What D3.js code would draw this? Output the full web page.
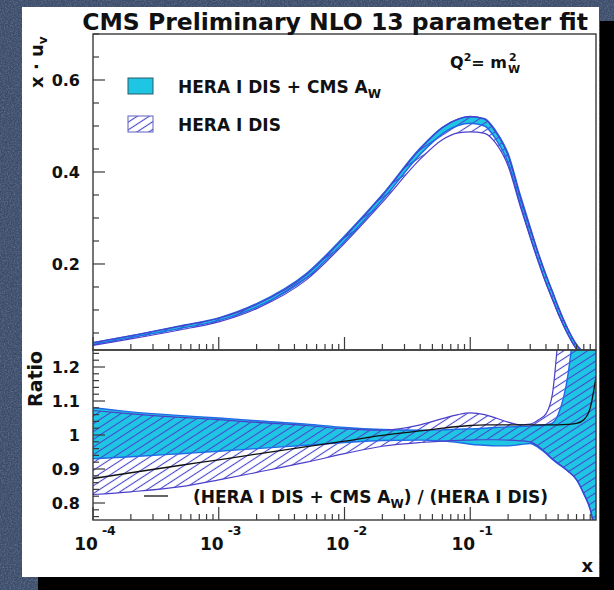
<!DOCTYPE html>
<html><head><meta charset="utf-8">
<script src="https://cdn.jsdelivr.net/npm/d3@7"></script>
<style>html,body{margin:0;padding:0;background:#3f506e;overflow:hidden}</style>
</head><body><svg id="c" width="614" height="590"></svg>
<script>
// ---------------- data ----------------
const xGrid = [1e-4, 2e-4, 5e-4, 1e-3, 2e-3, 5e-3, 1e-2, 2e-2, 4e-2, 6e-2, 0.08, 0.1, 0.13, 0.16, 0.2, 0.25, 0.3, 0.35, 0.4, 0.45, 0.5, 0.6, 0.7, 0.8, 0.9, 1.0];

// upper panel: x*u_v bands
const pdfCyanLo = [0.025,0.040,0.060,0.077,0.106,0.170,0.249,0.339,0.438,0.483,0.501,0.506,0.500,0.471,0.420,0.330,0.260,0.204,0.159,0.124,0.093,0.046,0.015,0.002,0.000,0];
const pdfCyanHi = [0.029,0.044,0.066,0.083,0.114,0.180,0.261,0.351,0.452,0.497,0.515,0.520,0.516,0.489,0.440,0.350,0.280,0.222,0.177,0.141,0.108,0.058,0.025,0.008,0.002,0];
const pdfHeraLo = [0.023,0.037,0.057,0.074,0.103,0.166,0.245,0.334,0.428,0.470,0.485,0.487,0.484,0.462,0.413,0.325,0.257,0.202,0.158,0.123,0.092,0.046,0.015,0.002,0.000,0];
const pdfHeraHi = [0.029,0.044,0.065,0.082,0.112,0.177,0.258,0.349,0.450,0.496,0.515,0.521,0.515,0.486,0.436,0.345,0.276,0.220,0.175,0.139,0.106,0.057,0.024,0.008,0.002,0];

// lower panel: ratios
const ratioCentral = [0.872,0.889,0.911,0.927,0.944,0.966,0.982,0.999,1.012,1.020,1.025,1.028,1.030,1.030,1.030,1.030,1.030,1.030,1.030,1.030,1.030,1.031,1.034,1.045,1.080,1.170];
const cyanRatioLo = [0.930,0.936,0.945,0.952,0.960,0.970,0.978,0.984,0.985,0.982,0.978,0.973,0.970,0.968,0.968,0.972,0.975,0.962,0.946,0.928,0.915,0.893,0.868,0.826,0.780,0.700];
const cyanRatioHi = [1.080,1.068,1.057,1.050,1.042,1.032,1.022,1.016,1.014,1.015,1.017,1.018,1.020,1.022,1.024,1.025,1.026,1.028,1.030,1.035,1.060,1.180,1.400,1.700,2.000,2.500];
const heraRatioLo = [0.825,0.833,0.848,0.868,0.890,0.920,0.945,0.967,0.978,0.982,0.984,0.985,0.986,0.986,0.985,0.983,0.980,0.966,0.948,0.930,0.917,0.894,0.869,0.828,0.782,0.700];
const heraRatioHi = [1.072,1.062,1.052,1.045,1.037,1.028,1.018,1.014,1.030,1.048,1.060,1.065,1.060,1.050,1.038,1.030,1.032,1.045,1.062,1.120,1.290,1.700,2.000,2.300,2.500,2.800];

const xTickDecades = [-4, -3, -2, -1];
const upperTickLabels = [0.2, 0.4, 0.6];
const lowerTickLabels = [0.8, 0.9, 1.0, 1.1, 1.2];

const title = "CMS Preliminary NLO 13 parameter fit";
const legendCyan = "HERA I DIS + CMS A";
const legendHera = "HERA I DIS";

// ---------------- layout ----------------
const FONT = "'DejaVu Sans', 'Liberation Sans', sans-serif";
const L = 93, R = 596, T = 34, MID = 350, B = 520;
const svg = d3.select("#c");
const defs = svg.append("defs");

// background texture
const f = defs.append("filter").attr("id","noise").attr("x",0).attr("y",0).attr("width","100%").attr("height","100%");
f.append("feTurbulence").attr("type","fractalNoise").attr("baseFrequency",0.7).attr("numOctaves",2).attr("seed",4);
f.append("feColorMatrix").attr("type","matrix").attr("values","0 0 0 0 0.62  0 0 0 0 0.68  0 0 0 0 0.82  1.1 0 0 0 -0.42");
svg.append("rect").attr("width",614).attr("height",590).attr("fill","#3c4d6b");
svg.append("rect").attr("width",614).attr("height",590).attr("filter","url(#noise)").attr("opacity",0.45);

// shadow + white page
svg.append("rect").attr("x",600).attr("y",21).attr("width",14).attr("height",569).attr("fill","#000");
svg.append("rect").attr("x",38).attr("y",577).attr("width",576).attr("height",13).attr("fill","#000");
svg.append("rect").attr("x",22).attr("y",7).attr("width",577).attr("height",570).attr("fill","#fff");

// hatch pattern
const pat = defs.append("pattern").attr("id","hatch").attr("patternUnits","userSpaceOnUse")
  .attr("width",10).attr("height",6.5).attr("patternTransform","rotate(-33)");
pat.append("line").attr("x1",0).attr("x2",10).attr("y1",3.25).attr("y2",3.25)
  .attr("stroke","#4646cc").attr("stroke-width",1.1);

defs.append("clipPath").attr("id","cu").append("rect").attr("x",L).attr("y",T).attr("width",R-L).attr("height",MID-T);
defs.append("clipPath").attr("id","cl").append("rect").attr("x",L).attr("y",MID).attr("width",R-L).attr("height",B-MID);

// scales
const x = d3.scaleLog().domain([1e-4, 1]).range([L, R]);
const yU = d3.scaleLinear().domain([0.013, 0.7]).range([MID, T]);
const yL = d3.scaleLinear().domain([0.75, 1.25]).range([B, MID]);

const CYAN = "#1fc6e3", CYAN_EDGE = "#1f6ae6", HERA_EDGE = "#4b3fca";
const idx = d3.range(xGrid.length);

function drawBands(g, y, cLo, cHi, hLo, hHi) {
  const area = (lo, hi) => d3.area().x(i => x(xGrid[i])).y0(i => y(lo[i])).y1(i => y(hi[i])).curve(d3.curveMonotoneX);
  const line = (arr) => d3.line().x(i => x(xGrid[i])).y(i => y(arr[i])).curve(d3.curveMonotoneX);
  g.append("path").attr("d", area(cLo, cHi)(idx)).attr("fill", CYAN);
  g.append("path").attr("d", area(hLo, hHi)(idx)).attr("fill", "url(#hatch)");
  [cLo, cHi].forEach(a => g.append("path").attr("d", line(a)(idx)).attr("fill","none").attr("stroke",CYAN_EDGE).attr("stroke-width",1.4));
  [hLo, hHi].forEach(a => g.append("path").attr("d", line(a)(idx)).attr("fill","none").attr("stroke",HERA_EDGE).attr("stroke-width",1.2));
}

// upper panel
const gU = svg.append("g").attr("clip-path","url(#cu)");
drawBands(gU, yU, pdfCyanLo, pdfCyanHi, pdfHeraLo, pdfHeraHi);

// lower panel
const gL = svg.append("g").attr("clip-path","url(#cl)");
drawBands(gL, yL, cyanRatioLo, cyanRatioHi, heraRatioLo, heraRatioHi);
gL.append("path").attr("d", d3.line().x(i => x(xGrid[i])).y(i => yL(ratioCentral[i])).curve(d3.curveMonotoneX)(idx))
  .attr("fill","none").attr("stroke","#111").attr("stroke-width",1.3);

// frames
const AX = "#3a3a3a";
svg.append("rect").attr("x",L).attr("y",T).attr("width",R-L).attr("height",MID-T).attr("fill","none").attr("stroke",AX).attr("stroke-width",1.4);
svg.append("rect").attr("x",L).attr("y",MID).attr("width",R-L).attr("height",B-MID).attr("fill","none").attr("stroke",AX).attr("stroke-width",1.4);

// x ticks
function xTicks(yBase, majLen, minLen) {
  const g = svg.append("g").attr("stroke",AX).attr("stroke-width",1.2);
  xTickDecades.forEach(d => {
    const v = Math.pow(10, d);
    g.append("line").attr("x1",x(v)).attr("x2",x(v)).attr("y1",yBase).attr("y2",yBase-majLen);
    for (let k = 2; k <= 9; k++) {
      const m = k * v;
      g.append("line").attr("x1",x(m)).attr("x2",x(m)).attr("y1",yBase).attr("y2",yBase-minLen);
    }
  });
}
xTicks(MID, 13, 6);
xTicks(B, 13, 6);

// y ticks
function yTicks(y, lo, hi, minorStep, majors) {
  const g = svg.append("g").attr("stroke",AX).attr("stroke-width",1.2);
  const n0 = Math.ceil(lo / minorStep - 1e-6), n1 = Math.floor(hi / minorStep + 1e-6);
  for (let n = n0; n <= n1; n++) {
    const v = n * minorStep;
    const isMaj = majors.some(m => Math.abs(m - v) < 1e-6);
    g.append("line").attr("x1",L).attr("x2",L + (isMaj ? 12 : 6)).attr("y1",y(v)).attr("y2",y(v));
  }
}
yTicks(yU, 0.013, 0.7, 0.05, upperTickLabels);
yTicks(yL, 0.75, 1.25, 0.02, lowerTickLabels);

// tick labels
const txt = (xx, yy, s, size, anchor) => svg.append("text").attr("x",xx).attr("y",yy)
  .attr("font-family",FONT).attr("font-weight","bold").attr("font-size",size)
  .attr("text-anchor",anchor || "start").attr("fill","#111").text(s);

upperTickLabels.forEach(v => txt(80, yU(v) + 6, d3.format(".1f")(v), 16, "end"));
lowerTickLabels.forEach(v => txt(80, yL(v) + 6, v === 1 ? "1" : d3.format(".1f")(v), 16, "end"));

xTickDecades.forEach(d => {
  const t = svg.append("text").attr("x", x(Math.pow(10,d)) + 2).attr("y", 550)
    .attr("font-family",FONT).attr("font-weight","bold").attr("font-size",17)
    .attr("text-anchor","middle").attr("fill","#111");
  t.append("tspan").text("10");
  t.append("tspan").attr("dx",4).attr("dy",-15).attr("font-size",12.5).text(String(d));
});

// axis titles
txt(593, 572, "x", 18, "end");
const yt = svg.append("text").attr("transform","translate(43,88) rotate(-90)")
  .attr("font-family",FONT).attr("font-weight","bold").attr("font-size",18).attr("fill","#111");
yt.append("tspan").text("x \u00B7 u");
yt.append("tspan").attr("dy",4).attr("font-size",12).text("v");
svg.append("text").attr("transform","translate(42,407) rotate(-90)")
  .attr("font-family",FONT).attr("font-weight","bold").attr("font-size",19).attr("fill","#111").text("Ratio");

// title
txt(588, 30, title, 23.5, "end");

// Q^2 = m_W^2
const q = svg.append("text").attr("x",507).attr("y",68).attr("text-anchor","end")
  .attr("font-family",FONT).attr("font-weight","bold").attr("font-size",16).attr("fill","#111");
q.append("tspan").text("Q");
q.append("tspan").attr("dy",-7).attr("font-size",11).text("2");
q.append("tspan").attr("dy",7).text("= m");
txt(509, 61, "2", 11);
txt(508, 73, "W", 11);

// legend upper
svg.append("rect").attr("x",128).attr("y",78).attr("width",25).attr("height",16).attr("fill",CYAN).attr("stroke","#2a5a66").attr("stroke-width",1);
svg.append("rect").attr("x",128).attr("y",116).attr("width",25).attr("height",16).attr("fill","#fff");
svg.append("rect").attr("x",128).attr("y",116).attr("width",25).attr("height",16).attr("fill","url(#hatch)").attr("stroke","#6060c0").attr("stroke-width",1);
const l1 = svg.append("text").attr("x",178).attr("y",93).attr("font-family",FONT).attr("font-weight","bold").attr("font-size",17).attr("fill","#111");
l1.append("tspan").text(legendCyan);
l1.append("tspan").attr("dy",5).attr("font-size",12).text("W");
txt(178, 131, legendHera, 17);

// ratio legend
svg.append("line").attr("x1",144).attr("x2",168).attr("y1",496).attr("y2",496).attr("stroke","#111").attr("stroke-width",1.3);
const l3 = svg.append("text").attr("x",193).attr("y",503).attr("font-family",FONT).attr("font-weight","bold").attr("font-size",17).attr("fill","#111");
l3.append("tspan").text("(" + legendCyan);
l3.append("tspan").attr("dy",5).attr("font-size",12).text("W");
l3.append("tspan").attr("dy",-5).text(") / (" + legendHera + ")");
</script></body></html>
